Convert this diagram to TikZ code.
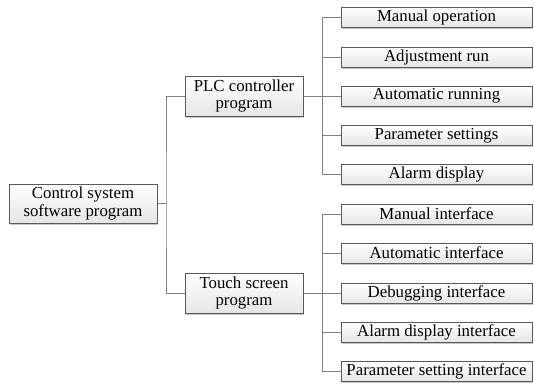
\documentclass[tikz,border=0pt]{standalone}
\usepackage{fontspec}
\setmainfont{Liberation Serif}
\usetikzlibrary{shadows}
\begin{document}
\begin{tikzpicture}[x=1pt,y=-1pt]
\tikzset{every node/.style={inner sep=0pt,font=\fontsize{16.8}{17.5}\selectfont},
  box/.style={draw=black!65,line width=1pt,top color=white,bottom color=black!10,align=center,
    drop shadow={shadow xshift=1.2pt,shadow yshift=-1.5pt,fill=black!22,opacity=1}},
  leaf/.style={box,minimum width=191,minimum height=20},
  link/.style={draw=black!50,line width=0.9pt}}
\useasboundingbox (0,0) rectangle (534,383);
% main nodes
\node[box,minimum width=148,minimum height=39] (root) at (83,203.5) {Control system\\software program};
\node[box,minimum width=118,minimum height=40] (plc) at (244,96) {PLC controller\\program};
\node[box,minimum width=118,minimum height=40] (touch) at (244,293) {Touch screen\\program};
% leaves
\node[leaf] (man) at (436.5,17) {Manual operation};
\node[leaf] (adj) at (436.5,57) {Adjustment run};
\node[leaf] (aut) at (436.5,96) {Automatic running};
\node[leaf] (par) at (436.5,135.5) {Parameter settings};
\node[leaf] (alm) at (436.5,174.5) {Alarm display};
\node[leaf] (mif) at (436.5,214) {Manual interface};
\node[leaf] (aif) at (436.5,253) {Automatic interface};
\node[leaf] (dif) at (436.5,293) {Debugging interface};
\node[leaf] (lif) at (436.5,332) {Alarm display interface};
\node[leaf] (pif) at (436.5,371.5) {Parameter setting interface};
% links
\coordinate (j0) at (166,203.5);
\coordinate (j1) at (322,96);
\coordinate (j2) at (322,293);
\draw[link] (root.east) -- (j0);
\draw[link] (plc.west) -| (j0) |- (touch.west);
\draw[link] (plc.east) -- (j1);
\draw[link] (touch.east) -- (j2);
\foreach \n in {man,adj,aut,par,alm}
  \draw[link] (j1) |- (\n.west);
\foreach \n in {mif,aif,dif,lif,pif}
  \draw[link] (j2) |- (\n.west);
\end{tikzpicture}
\end{document}
